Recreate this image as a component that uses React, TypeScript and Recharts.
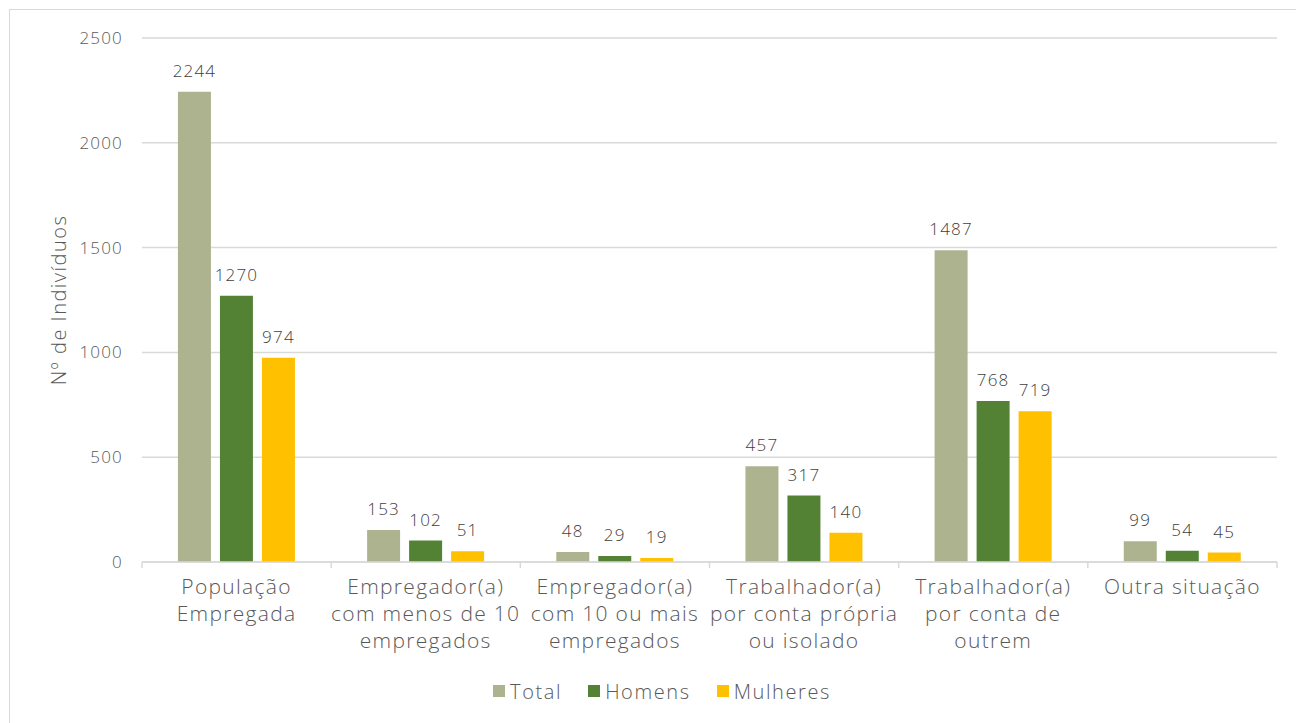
import { Bar, BarChart, CartesianGrid, LabelList, Legend, XAxis, YAxis } from "recharts";

const categories = [
  ["População", "Empregada"],
  ["Empregador(a)", "com menos de 10", "empregados"],
  ["Empregador(a)", "com 10 ou mais", "empregados"],
  ["Trabalhador(a)", "por conta própria", "ou isolado"],
  ["Trabalhador(a)", "por conta de", "outrem"],
  ["Outra situação"],
];
const total = [2244, 153, 48, 457, 1487, 99];
const homens = [1270, 102, 29, 317, 768, 54];
const mulheres = [974, 51, 19, 140, 719, 45];
const yTicks = [0, 500, 1000, 1500, 2000, 2500];

const FONT = "'Open Sans', sans-serif";
const GREY = "#595959";
const AXIS = "#d9d9d9";
const WEIGHT = 350;

const series = [
  { key: "total", name: "Total", color: "#AEB38F" },
  { key: "homens", name: "Homens", color: "#548235" },
  { key: "mulheres", name: "Mulheres", color: "#FFC000" },
];

const data = categories.map((lines, i) => ({
  name: lines.join(" "),
  total: total[i],
  homens: homens[i],
  mulheres: mulheres[i],
}));

// multi-line category label, plus the short marks on the category boundaries
const CategoryTick = (props: any) => {
  const { x, y, payload } = props;
  const half = payload.offset ?? 0;
  const lines = categories[payload.index] ?? [];
  const isLast = payload.index === categories.length - 1;
  return (
    <g>
      <line x1={x - half} x2={x - half} y1={y} y2={y + 6} stroke={AXIS} strokeWidth={1.5} />
      {isLast && (
        <line x1={x + half} x2={x + half} y1={y} y2={y + 6} stroke={AXIS} strokeWidth={1.5} />
      )}
      <text
        x={x}
        y={y}
        textAnchor="middle"
        fill={GREY}
        fontFamily={FONT}
        fontSize={21}
        fontWeight={WEIGHT}
        letterSpacing={1.3}
      >
        {lines.map((l, i) => (
          <tspan key={i} x={x} dy={i === 0 ? 32 : 27}>
            {l}
          </tspan>
        ))}
      </text>
    </g>
  );
};

const LegendBox = () => (
  <div
    style={{
      display: "flex",
      justifyContent: "center",
      alignItems: "center",
      gap: 26,
      height: 30,
      fontFamily: FONT,
      fontSize: 20,
      fontWeight: WEIGHT,
      letterSpacing: 1.6,
      color: GREY,
    }}
  >
    {series.map((s) => (
      <span key={s.key} style={{ display: "flex", alignItems: "center", gap: 5 }}>
        <span style={{ width: 12, height: 12, background: s.color, display: "inline-block" }} />
        {s.name}
      </span>
    ))}
  </div>
);

const YTitle = (props: any) => {
  const vb = props.viewBox;
  const cx = 48;
  const cy = vb.y + vb.height / 2;
  return (
    <text
      x={cx}
      y={cy}
      transform={`rotate(-90, ${cx}, ${cy})`}
      textAnchor="middle"
      dominantBaseline="central"
      fill={GREY}
      fontFamily={FONT}
      fontSize={20}
      fontWeight={WEIGHT}
      letterSpacing={1.5}
    >
      Nº de Indivíduos
    </text>
  );
};

export default function App() {
  return (
    <div style={{ position: "relative" }}>
      {/* faint decorative circles peeking above the frame */}
      <svg width={300} height={12} style={{ position: "absolute", left: -8, top: -8 }}>
        <circle cx={120} cy={-52} r={60} fill="#FEF0E2" />
        <circle cx={228} cy={-49} r={55} fill="#FFF7DE" />
      </svg>
      <div
        style={{
          position: "relative",
          top: 1,
          marginLeft: 1,
          width: 1304,
          height: 720,
          borderTop: `1px solid ${AXIS}`,
          borderLeft: `1px solid ${AXIS}`,
          background: "#fff",
        }}
      >
        <BarChart
          width={1304}
          height={713}
          data={data}
          margin={{ top: 28, right: 37, left: 0, bottom: 17 }}
          barCategoryGap="19%"
          barGap={9}
        >
          <CartesianGrid vertical={false} stroke={AXIS} strokeWidth={1.5} />
          <XAxis
            dataKey="name"
            height={114}
            tickLine={false}
            tickSize={0}
            tickMargin={0}
            axisLine={{ stroke: AXIS, strokeWidth: 1.5 }}
            tick={<CategoryTick />}
            interval={0}
          />
          <YAxis
            width={132}
            domain={[0, 2500]}
            ticks={yTicks}
            axisLine={false}
            tickLine={false}
            tickSize={0}
            tickMargin={19}
            tick={{ fill: GREY, fontFamily: FONT, fontSize: 17, fontWeight: WEIGHT, letterSpacing: 1.2 }}
            label={<YTitle />}
          />
          <Legend
            verticalAlign="bottom"
            content={<LegendBox />}
            wrapperStyle={{ height: 30, width: 1304, left: 0 }}
          />
          {series.map((s) => (
            <Bar key={s.key} dataKey={s.key} name={s.name} fill={s.color} isAnimationActive={false}>
              <LabelList
                dataKey={s.key}
                position="top"
                offset={15}
                fill="#404040"
                fontFamily={FONT}
                fontSize={17}
                fontWeight={WEIGHT}
                letterSpacing={1.2}
              />
            </Bar>
          ))}
        </BarChart>
      </div>
    </div>
  );
}
